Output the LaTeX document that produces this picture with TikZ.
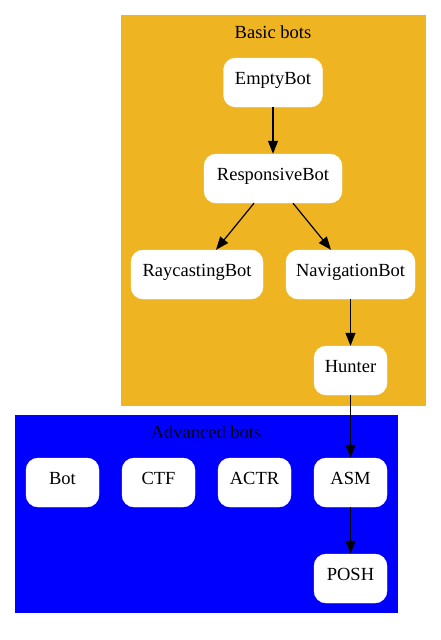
\documentclass[tikz,border=0pt]{standalone}
\usepackage{fontspec}
\setmainfont{Liberation Serif}
\usetikzlibrary{arrows.meta}
\definecolor{gold}{HTML}{EEB422}
\tikzset{
  bot/.style={draw=white, fill=white, rounded corners=12pt, minimum width=#1, minimum height=49pt, inner sep=0pt, font=\fontsize{18.5pt}{20pt}\selectfont},
  bot/.default=73pt,
  arr/.style={-{Triangle[length=13pt,width=10pt]}, line width=1.2pt, black},
  ctitle/.style={font=\fontsize{18.5pt}{20pt}\selectfont}
}
\newcommand{\lbl}[1]{\raisebox{8pt}{#1}}
\begin{document}
\begin{tikzpicture}[x=1pt,y=1pt]
\useasboundingbox (0,0) rectangle (441,-640);
\fill[white] (0,0) rectangle (441,-640);
% clusters
\fill[gold] (121,-15) rectangle (426,-406);
\fill[blue] (15,-415) rectangle (398,-613);
\node[ctitle] (tb) at (273,-32) {Basic bots};
\node[ctitle] (ta) at (206,-432) {Advanced bots};
% basic nodes
\node[bot=99pt] (empty) at (273,-82.5) {\lbl{EmptyBot}};
\node[bot=138pt] (resp) at (273,-178.5) {\lbl{ResponsiveBot}};
\node[bot=132pt] (ray) at (197,-274.5) {\lbl{RaycastingBot}};
\node[bot=129pt] (nav) at (350.5,-274.5) {\lbl{NavigationBot}};
\node[bot] (hunter) at (350.5,-370.5) {\lbl{Hunter}};
% advanced nodes
\node[bot] (bot) at (62.5,-482.5) {\lbl{Bot}};
\node[bot] (ctf) at (158.5,-482.5) {\lbl{CTF}};
\node[bot] (actr) at (254.5,-482.5) {\lbl{ACTR}};
\node[bot] (asm) at (350.5,-482.5) {\lbl{ASM}};
\node[bot] (posh) at (350.5,-578.5) {\lbl{POSH}};
% edges
\draw[arr] (empty.south) -- (resp.north);
\draw[arr] ([xshift=-19pt]resp.south) -- ([xshift=19pt]ray.north);
\draw[arr] ([xshift=20pt]resp.south) -- ([xshift=-19.5pt]nav.north);
\draw[arr] (nav.south) -- (hunter.north);
\draw[arr] (hunter.south) -- (asm.north);
\draw[arr] (asm.south) -- (posh.north);
\end{tikzpicture}
\end{document}
